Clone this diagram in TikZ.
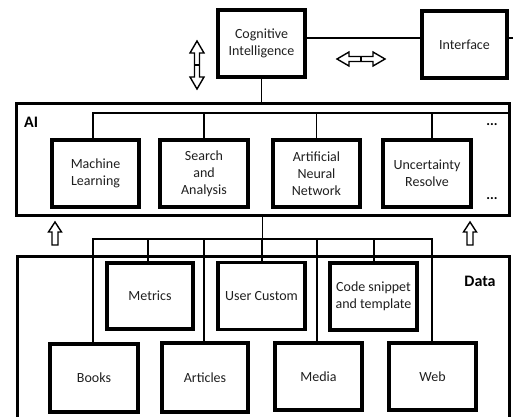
\documentclass[tikz,border=0pt]{standalone}
\usepackage{fontspec}
\setmainfont{Carlito}
\begin{document}
\begin{tikzpicture}[x=1pt,y=-1pt,
  box/.style={draw=black,line width=3.2pt,align=center,inner sep=0pt,
    minimum width=87pt,minimum height=67pt,
    font=\fontsize{14}{17}\selectfont,text=black!88},
  frame/.style={draw=black,line width=3pt},
  wire/.style={draw=black,line width=1.4pt},
  blockarrow/.style={draw=black,line width=1.4pt,fill=white,line join=miter},
  tag/.style={font=\fontsize{16}{18}\selectfont\bfseries,inner sep=0pt}]
\useasboundingbox (0,0) rectangle (513,416);
\clip (0,0) rectangle (513,416);

% top row
\node[box] (CI) at (261.5,43.5) {Cognitive\\Intelligence};
\node[box,minimum width=85pt] (IF) at (464.5,44.5) {Interface};
\coordinate (link) at ([yshift=5.5pt]CI.east);
\draw[wire] (link) -- (link -| IF.west);
\draw[wire] (link -| IF.east) -- +(8,0);

% AI layer
\node[frame,minimum width=493pt,minimum height=112pt,inner sep=0pt] (AI) at (262.5,159) {};
\node[tag,anchor=west] (AIlbl) at (24,122) {AI};
\node[box] (ML) at (95.5,173.5) {Machine\\Learning};
\node[box,minimum width=88pt] (SA) at (204,173.5) {Search\\and\\Analysis};
\node[box] (ANN) at (316.5,173.5) {Artificial\\Neural\\Network};
\node[box,minimum width=88pt] (UR) at (427,173.5) {Uncertainty\\Resolve};
\node[font=\fontsize{14}{14}\selectfont\bfseries] (dots1) at (492,125) {...};
\node[font=\fontsize{14}{14}\selectfont\bfseries] (dots2) at (492,199) {...};

\draw[wire] (CI.south) -- (CI.south |- AI.north);
\coordinate (aibus) at (508,113);
\draw[wire] ([xshift=-2.5pt]ML.north) |- (aibus);
\draw[wire] (SA.north) -- (SA.north |- aibus);
\draw[wire] (ANN.north) -- (ANN.north |- aibus);
\draw[wire] ([xshift=5pt]UR.north) -- ([xshift=5pt]UR.north |- aibus);

% Data layer
\draw[frame] (17,430) -- (17,256) coordinate (dataTL) -- (509,256) coordinate (dataTR) -- (509,430);
\node[tag] (Datalbl) at (480,281) {Data};
\node[box,minimum width=86pt,minimum height=66pt] (MT) at (150,296) {Metrics};
\node[box] (UC) at (261.5,296) {User Custom};
\node[box] (CS) at (373.5,296.5) {Code snippet\\and template};
\node[box,minimum width=88pt,minimum height=68pt] (BK) at (94,378) {Books};
\node[box,minimum width=86pt,minimum height=69pt] (AR) at (205,377.5) {Articles};
\node[box] (MD) at (318.5,376.5) {Media};
\node[box] (WB) at (432.5,376.5) {Web};

\coordinate (dbus) at (262,239);
\draw[wire] (AI.south) -- (AI.south |- dbus);
\draw[wire] ([xshift=-1pt]BK.north) |- (dbus) -| ([xshift=-0.5pt]WB.north);
\draw[wire] ([xshift=-2pt]MT.north) -- ([xshift=-2pt]MT.north |- dbus);
\draw[wire] ([xshift=-1pt]AR.north) -- ([xshift=-1pt]AR.north |- dbus);
\draw[wire] ([xshift=0.5pt]UC.north) -- ([xshift=0.5pt]UC.north |- dbus);
\draw[wire] ([xshift=-1.5pt]MD.north) -- ([xshift=-1.5pt]MD.north |- dbus);
\draw[wire] ([xshift=0.5pt]CS.north) -- ([xshift=0.5pt]CS.north |- dbus);

% vertical double block arrow
\draw[blockarrow] (197,41) -- (204,53) -- (199.5,53) -- (199.5,77) -- (204,77)
  -- (197,89) -- (190,77) -- (194.5,77) -- (194.5,53) -- (190,53) -- cycle;
\draw[wire] (194.5,65) -- (199.5,65);
% horizontal double block arrow
\draw[blockarrow] (337,59) -- (349,52) -- (349,56.5) -- (373,56.5) -- (373,52)
  -- (385,59) -- (373,66) -- (373,61.5) -- (349,61.5) -- (349,66) -- cycle;
\draw[wire] (361,56.5) -- (361,61.5);

% upward block arrows between the layers
\foreach \cx in {55,470} {
  \draw[blockarrow] (\cx,222) -- (\cx+6.5,232) -- (\cx+3,232) -- (\cx+3,245)
    -- (\cx-3,245) -- (\cx-3,232) -- (\cx-6.5,232) -- cycle;
}
\end{tikzpicture}
\end{document}
